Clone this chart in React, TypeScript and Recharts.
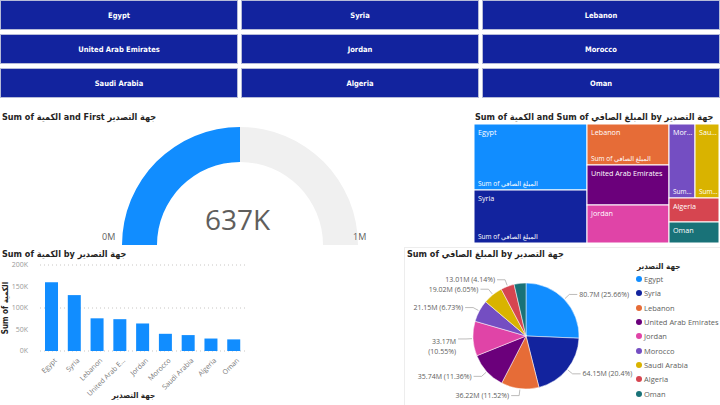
import React from "react";
import {
  BarChart,
  Bar,
  XAxis,
  YAxis,
  CartesianGrid,
  PieChart,
  Pie,
  Cell,
  Treemap,
  Legend,
} from "recharts";

const countries = [
  "Egypt",
  "Syria",
  "Lebanon",
  "United Arab Emirates",
  "Jordan",
  "Morocco",
  "Saudi Arabia",
  "Algeria",
  "Oman",
];
// Sum of الكمية, in thousands
const quantityK = [160, 130, 76, 74, 64, 40, 37, 29, 27];
// Sum of المبلغ الصافي, in millions
const netAmountM = [80.7, 64.15, 36.22, 35.74, 33.17, 21.15, 19.02, 13.01, 11.33];
const quantityTicks = [0, 50, 100, 150, 200];

const palette = [
  "#118DFF",
  "#12239E",
  "#E66C37",
  "#6B007B",
  "#E044A7",
  "#744EC2",
  "#D9B300",
  "#D64550",
  "#197278",
];

const QTY = "الكمية";
const NET = "المبلغ الصافي";
const COUNTRY = "جهة التصدير";

const titleFont = '"DejaVu Sans Condensed", "DejaVu Sans", sans-serif';
const bodyFont = '"Open Sans", "Noto Sans", "DejaVu Sans", sans-serif';

const colorOf: Record<string, string> = {};
countries.forEach((c, i) => (colorOf[c] = palette[i]));

const barData = countries.map((name, i) => ({ name, qty: quantityK[i] }));
const pieData = countries.map((name, i) => ({ name, value: netAmountM[i] }));
const treeData = countries.map((name, i) => ({ name, value: netAmountM[i] }));

// gauge: Power BI default max is twice the value
const gaugeValue = quantityK.reduce((a, b) => a + b, 0);
const gaugeMax = gaugeValue * 2;
const gaugeData = [
  { name: "value", v: gaugeValue },
  { name: "rest", v: gaugeMax - gaugeValue },
];

function Title({ x, y, children }: { x: number; y: number; children: React.ReactNode }) {
  return (
    <div
      style={{
        position: "absolute",
        left: x,
        top: y,
        fontFamily: titleFont,
        fontWeight: "bold",
        fontSize: 9,
        color: "#252423",
        whiteSpace: "nowrap",
        lineHeight: "12px",
      }}
    >
      {children}
    </div>
  );
}

function Buttons() {
  return (
    <>
      {countries.map((c, i) => {
        const col = i % 3;
        const row = Math.floor(i / 3);
        return (
          <div
            key={c}
            style={{
              position: "absolute",
              left: col * 241,
              top: row * 34,
              width: 238,
              height: 30,
              boxSizing: "border-box",
              background: "#12239E",
              border: "1px solid #B6BBD8",
              color: "#fff",
              fontFamily: titleFont,
              fontWeight: "bold",
              fontSize: 7.5,
              display: "flex",
              alignItems: "center",
              justifyContent: "center",
            }}
          >
            {c}
          </div>
        );
      })}
    </>
  );
}

function fit(s: string, maxW: number, cw: number) {
  if (s.length * cw <= maxW) return s;
  return s.slice(0, Math.max(1, Math.floor(maxW / cw) - 2)) + "…";
}

function TreeCell(props: any) {
  const { x, y, width, height, depth, name } = props;
  if (depth !== 1) return null;
  return (
    <g>
      <rect x={x} y={y} width={width} height={height} fill={colorOf[name]} stroke="#fff" strokeWidth={1} />
      <text x={x + 4} y={y + 11} fontSize={7.2} fill="#fff" fontFamily={bodyFont}>
        {fit(name, width - 5, 3.6)}
      </text>
      {height > 40 && (
        <text x={x + 4} y={y + height - 4} fontSize={6.5} fill="#fff" fontFamily={bodyFont}>
          {fit(`Sum of ${NET}`, width - 5, 3.6)}
        </text>
      )}
    </g>
  );
}

function XTick({ x, y, payload }: any) {
  const s: string = payload.value.length > 15 ? payload.value.slice(0, 13) + "…" : payload.value;
  const tx = x + 2;
  const ty = y + 3;
  return (
    <text
      x={tx}
      y={ty}
      transform={`rotate(-45 ${tx} ${ty})`}
      textAnchor="end"
      dominantBaseline="hanging"
      fontSize={7}
      fill="#777"
      fontFamily={bodyFont}
    >
      {s}
    </text>
  );
}

function YTitle({ viewBox }: any) {
  const cx = viewBox.x + 5;
  const cy = viewBox.y + viewBox.height / 2;
  return (
    <text
      x={cx}
      y={cy}
      transform={`rotate(-90 ${cx} ${cy})`}
      textAnchor="middle"
      dominantBaseline="central"
      fontSize={8}
      fontWeight="bold"
      fill="#252423"
      fontFamily={titleFont}
    >
      {`Sum of ${QTY}`}
    </text>
  );
}

function XTitle({ viewBox }: any) {
  return (
    <text
      x={viewBox.x + viewBox.width / 2 - 9}
      y={viewBox.y + viewBox.height - 7}
      textAnchor="middle"
      fontSize={8}
      fontWeight="bold"
      fill="#252423"
      fontFamily={titleFont}
    >
      {COUNTRY}
    </text>
  );
}

const RAD = Math.PI / 180;

function PieLabel(p: any) {
  const { cx, cy, midAngle, outerRadius, percent, value } = p;
  if (percent < 0.04) return null;
  const cos = Math.cos(-midAngle * RAD);
  const sin = Math.sin(-midAngle * RAD);
  const x1 = cx + (outerRadius + 1) * cos;
  const y1 = cy + (outerRadius + 1) * sin;
  const x2 = cx + (outerRadius + 7) * cos;
  const y2 = cy + (outerRadius + 7) * sin;
  const right = cos >= 0;
  const x3 = x2 + (right ? 8 : -8);
  const tx = x3 + (right ? 2 : -2);
  const pct = Number((percent * 100).toFixed(2));
  const main = `${value}M`;
  const sub = `(${pct}%)`;
  const full = `${main} ${sub}`;
  const wrap = !right && tx - full.length * 3.3 < 4;
  return (
    <g>
      <polyline points={`${x1},${y1} ${x2},${y2} ${x3},${y2}`} fill="none" stroke="#A19F9D" strokeWidth={0.7} />
      <text
        x={tx}
        y={y2 + (wrap ? 2 : 0)}
        textAnchor={right ? "start" : "end"}
        dominantBaseline="central"
        fontSize={7}
        fill="#605E5C"
        fontFamily={bodyFont}
      >
        {wrap ? (
          <>
            <tspan x={tx}>{main}</tspan>
            <tspan x={tx} dy={10}>
              {sub}
            </tspan>
          </>
        ) : (
          full
        )}
      </text>
    </g>
  );
}

function PieLegend() {
  return (
    <div style={{ fontFamily: bodyFont }}>
      <div
        style={{
          fontFamily: titleFont,
          fontWeight: "bold",
          fontSize: 8,
          color: "#252423",
          height: 11,
          lineHeight: "11px",
          paddingLeft: 1,
        }}
      >
        {COUNTRY}
      </div>
      {countries.map((c, i) => (
        <div
          key={c}
          style={{
            display: "flex",
            alignItems: "center",
            height: 14.34,
            fontSize: 7.5,
            color: "#605E5C",
            whiteSpace: "nowrap",
          }}
        >
          <span
            style={{
              display: "inline-block",
              width: 6,
              height: 6,
              borderRadius: 3,
              background: palette[i],
              marginRight: 2,
            }}
          />
          {c}
        </div>
      ))}
    </div>
  );
}

const gaugeText = (d: number) => ({
  position: "absolute" as const,
  fontFamily: bodyFont,
  color: "#605E5C",
  fontSize: d,
  lineHeight: 1,
  whiteSpace: "nowrap" as const,
});

export default function App() {
  return (
    <div
      style={{
        position: "absolute",
        left: 0,
        top: 0,
        width: 720,
        height: 405,
        background: "#fff",
        overflow: "hidden",
      }}
    >
      <Buttons />

      {/* gauge */}
      <Title x={2} y={111}>
        Sum of {QTY} and First {COUNTRY}
      </Title>
      <div style={{ position: "absolute", left: 0, top: 108 }}>
        <PieChart width={470} height={140}>
          <Pie
            data={gaugeData}
            dataKey="v"
            cx={235}
            cy={132}
            startAngle={180}
            endAngle={0}
            innerRadius={83}
            outerRadius={118}
            stroke="none"
            isAnimationActive={false}
          >
            <Cell fill="#118DFF" />
            <Cell fill="#F0F0F0" />
          </Pie>
        </PieChart>
      </div>
      <div style={{ ...gaugeText(28), left: 205, top: 205, width: 60, textAlign: "center" }}>
        {`${gaugeValue}K`}
      </div>
      <div style={{ ...gaugeText(9), left: 102, top: 232 }}>{`${Math.round(0 / 1000)}M`}</div>
      <div style={{ ...gaugeText(9), left: 353, top: 232 }}>{`${Math.round(gaugeMax / 1000)}M`}</div>

      {/* treemap */}
      <Title x={475} y={111}>
        Sum of {QTY} and Sum of {NET} by {COUNTRY}
      </Title>
      <div style={{ position: "absolute", left: 474, top: 124 }}>
        <Treemap
          width={245}
          height={119}
          data={treeData}
          dataKey="value"
          nameKey="name"
          isAnimationActive={false}
          content={TreeCell as any}
        />
      </div>

      {/* bar chart */}
      <Title x={2} y={248}>
        Sum of {QTY} by {COUNTRY}
      </Title>
      <div style={{ position: "absolute", left: 0, top: 246 }}>
        <BarChart
          width={250}
          height={159}
          data={barData}
          margin={{ top: 19, right: 5, bottom: 0, left: 0 }}
          barCategoryGap="22%"
        >
          <CartesianGrid vertical={false} stroke="#C8C6C4" strokeDasharray="1 3" />
          <XAxis
            dataKey="name"
            interval={0}
            tickLine={false}
            axisLine={false}
            tickSize={0}
            tickMargin={3}
            height={54}
            tick={<XTick />}
            label={{ content: XTitle } as any}
          />
          <YAxis
            width={40}
            domain={[0, 200]}
            ticks={quantityTicks}
            tickFormatter={(v: number) => `${v}K`}
            tickLine={false}
            axisLine={false}
            tickSize={0}
            tickMargin={12}
            tick={{ fontSize: 7, fill: "#999", fontFamily: bodyFont }}
            label={{ content: YTitle } as any}
          />
          <Bar dataKey="qty" fill="#118DFF" isAnimationActive={false} />
        </BarChart>
      </div>

      {/* pie chart */}
      <div
        style={{
          position: "absolute",
          left: 404,
          top: 247,
          width: 320,
          height: 157,
          border: "1px solid #EDEDED",
        }}
      />
      <Title x={407} y={248}>
        Sum of {NET} by {COUNTRY}
      </Title>
      <div style={{ position: "absolute", left: 405, top: 247 }}>
        <PieChart width={315} height={158}>
          <Pie
            data={pieData}
            dataKey="value"
            nameKey="name"
            cx={116}
            cy={84}
            outerRadius={53}
            startAngle={90}
            endAngle={-270}
            stroke="#fff"
            strokeWidth={0.5}
            label={PieLabel}
            labelLine={false}
            isAnimationActive={false}
          >
            {pieData.map((d, i) => (
              <Cell key={d.name} fill={palette[i]} />
            ))}
          </Pie>
          <Legend
            layout="vertical"
            verticalAlign="top"
            align="right"
            wrapperStyle={{ left: 231, top: 14, width: 84 }}
            content={PieLegend as any}
          />
        </PieChart>
      </div>
    </div>
  );
}
